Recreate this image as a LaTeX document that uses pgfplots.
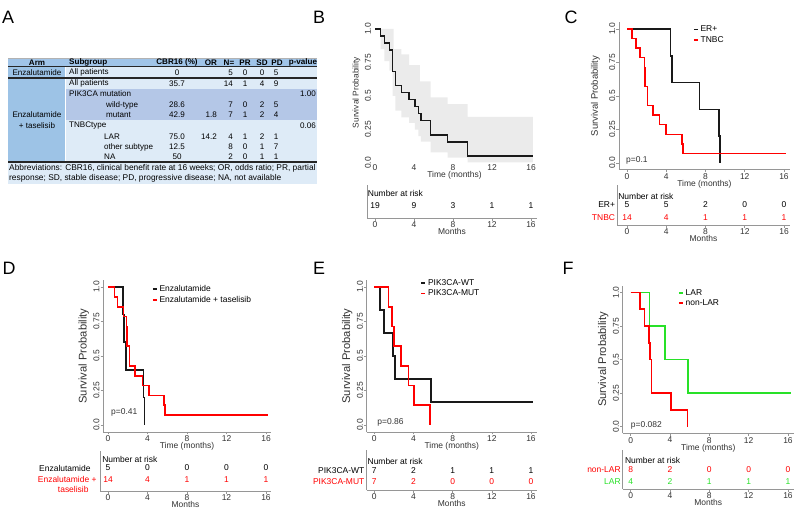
\documentclass[border=0pt]{standalone}
\usepackage{fontspec}
\setmainfont{Liberation Sans}
\usepackage{pgfplots}
\pgfplotsset{compat=1.18}

\definecolor{kmred}{RGB}{255,0,0}
\definecolor{kmgreen}{RGB}{40,225,40}
\definecolor{kmblack}{RGB}{25,25,25}
\definecolor{axgray}{RGB}{150,150,150}
\definecolor{txtgray}{RGB}{50,50,50}
\definecolor{hdrblue}{RGB}{160,196,232}
\definecolor{armblue}{RGB}{157,195,230}
\definecolor{lightblue}{RGB}{222,235,247}
\definecolor{midblue}{RGB}{180,199,231}
\definecolor{bandgray}{RGB}{235,235,235}

\newcommand{\tk}{\fontsize{8.5}{10}\selectfont}
\newcommand{\tb}{\fontsize{8.1}{9}\selectfont}

\pgfplotsset{
  km/.style={
    scale only axis, anchor=origin, clip=false,
    ymin=-0.05, ymax=1.05,
    axis lines*=left,
    axis line style={axgray, line width=0.6bp, -},
    xtick={0,4,8,12,16}, xticklabels={0,4,8,12,16},
    ytick={0,0.25,0.5,0.75,1}, yticklabels={0.0,0.25,0.5,0.75,1.0},
    tick style={axgray, line width=0.6bp},
    tick align=outside, major tick length=2.5bp,
    ticklabel style={font=\tk, text=txtgray, inner sep=1bp},
    yticklabel style={rotate=90, anchor=south},
    xlabel={Time (months)},
    xlabel style={font=\tk, text=txtgray, inner sep=0pt},
    ylabel={Survival Probability},
    ylabel style={font=\fontsize{11.2}{12}\selectfont, text=txtgray},
    legend cell align=left,
    legend image code/.code={\draw[#1, line width=1.6bp] (0bp,0bp) -- (4bp,0bp);},
    legend style={draw=none, fill=none, font=\tk, inner sep=0pt, row sep=-1bp, anchor=north west},
  },
  risk/.style={
    scale only axis, anchor=origin, clip=false, ymin=0,
    axis lines*=left, axis line style={axgray, line width=0.6bp, -},
    xtick={0,4,8,12,16}, xticklabels={0,4,8,12,16}, ytick=\empty,
    tick style={axgray, line width=0.6bp}, tick align=outside, major tick length=2.5bp,
    ticklabel style={font=\tk, text=txtgray, inner sep=1bp},
    xlabel={Months}, xlabel style={font=\tk, text=txtgray, inner sep=0pt, yshift=1bp},
  },
  curve/.style={const plot, mark=none, line width=1.6bp},
}

\begin{document}
\begin{tikzpicture}[x=1bp,y=-1bp]
\path[use as bounding box] (0,0) rectangle (800,508);

% panel letters
\foreach \l/\x/\y in {A/8/17,B/319/17,C/571/17,D/9/268,E/319/268,F/568/268}
  \node[font=\fontsize{18}{20}\selectfont] at (\x,\y) {\l};

% ---------------- Panel A: table ----------------
\fill[hdrblue] (8,58) rectangle (317,67);
\fill[armblue] (8,67) rectangle (65,162);
\fill[lightblue] (65,67) rectangle (317,89);
\fill[midblue] (65,89) rectangle (317,120);
\fill[lightblue] (65,120) rectangle (317,162);
\fill[lightblue] (8,162) rectangle (317,184);
\draw[white, line width=0.8bp] (65,67) -- (65,162);
\draw[gray!60, line width=0.5bp] (8,58) -- (317,58);
\draw[black!85, line width=1bp] (8,67) -- (317,67);
\draw[black!85, line width=1.3bp] (8,78) -- (317,78);
\draw[black!85, line width=1.3bp] (8,162) -- (317,162);

\tikzset{
  th/.style={font=\tb\bfseries, inner sep=0pt, anchor=center},
  tc/.style={font=\tb, inner sep=0pt, anchor=center},
  tl/.style={font=\tb, inner sep=0pt, anchor=west},
  tr/.style={font=\tb, inner sep=0pt, anchor=east},
}
\node[th] at (37,62.5) {Arm};
\node[th, anchor=west] at (69,62.5) {Subgroup};
\node[th] at (177,62.5) {CBR16 (\%)};
\node[th] at (211,62.5) {OR};
\node[th] at (229,62.5) {N=};
\node[th] at (245,62.5) {PR};
\node[th] at (262,62.5) {SD};
\node[th] at (277,62.5) {PD};
\node[th] at (303,62.5) {p-value};

\node[tc] at (37,72.5) {Enzalutamide};
\node[tc] at (37,115) {Enzalutamide};
\node[tc] at (37,126) {+ taselisib};

\node[tl] at (69,72.5) {All patients};
\node[tc] at (177,72.5) {0};
\node[tr] at (233,72.5) {5};
\node[tc] at (245,72.5) {0};
\node[tc] at (262,72.5) {0};
\node[tc] at (276,72.5) {5};

\node[tl] at (69,83.5) {All patients};
\node[tc] at (177,83.5) {35.7};
\node[tr] at (233,83.5) {14};
\node[tc] at (245,83.5) {1};
\node[tc] at (262,83.5) {4};
\node[tc] at (276,83.5) {9};

\node[tl] at (69,94) {PIK3CA mutation};
\node[tr] at (316,94) {1.00};

\node[tl] at (106,105) {wild-type};
\node[tc] at (177,105) {28.6};
\node[tr] at (233,105) {7};
\node[tc] at (245,105) {0};
\node[tc] at (262,105) {2};
\node[tc] at (276,105) {5};

\node[tl] at (106,115) {mutant};
\node[tc] at (177,115) {42.9};
\node[tr] at (217,115) {1.8};
\node[tr] at (233,115) {7};
\node[tc] at (245,115) {1};
\node[tc] at (262,115) {2};
\node[tc] at (276,115) {4};

\node[tl] at (69,126) {TNBCtype};
\node[tr] at (316,126) {0.06};

\node[tl] at (104,136.5) {LAR};
\node[tc] at (177,136.5) {75.0};
\node[tr] at (217,136.5) {14.2};
\node[tr] at (233,136.5) {4};
\node[tc] at (245,136.5) {1};
\node[tc] at (262,136.5) {2};
\node[tc] at (276,136.5) {1};

\node[tl] at (104,147) {other subtype};
\node[tc] at (177,147) {12.5};
\node[tr] at (233,147) {8};
\node[tc] at (245,147) {0};
\node[tc] at (262,147) {1};
\node[tc] at (276,147) {7};

\node[tl] at (104,157) {NA};
\node[tc] at (177,157) {50};
\node[tr] at (233,157) {2};
\node[tc] at (245,157) {0};
\node[tc] at (262,157) {1};
\node[tc] at (276,157) {1};

\node[tl, font=\fontsize{8.4}{9}\selectfont] at (9,168) {Abbreviations: CBR16, clinical benefit rate at 16 weeks; OR, odds ratio; PR, partial};
\node[tl, font=\fontsize{8.4}{9}\selectfont] at (9,178) {response; SD, stable disease; PD, progressive disease; NA, not available};

% ---------------- Panel B ----------------
\begin{axis}[km, at={(375bp,-163bp)}, xmin=-0.3, xmax=16.6, ymin=0,
  width=164.8bp, height=140.7bp,
  axis line style={draw=none}, tick style={draw=none}, major tick length=0pt,
  ylabel style={font=\fontsize{8.4}{9}\selectfont}]
\addplot[fill=bandgray, draw=none, forget plot] coordinates {
 (0,1)(1.9,1)(1.9,0.85)(2.7,0.85)(2.7,0.81)(3.5,0.81)(3.5,0.73)(4.6,0.73)(4.6,0.61)
 (5.7,0.61)(5.7,0.49)(7.45,0.49)(7.45,0.44)(9.5,0.44)(9.5,0.345)(16.2,0.345)
 (16.2,0.005)(9.5,0.005)(9.5,0.04)(7.45,0.04)(7.45,0.08)(5.7,0.08)(5.7,0.16)(4.7,0.16)
 (4.7,0.2)(4.45,0.2)(4.45,0.25)(4.1,0.25)(4.1,0.3)(3.5,0.3)(3.5,0.34)(2.7,0.34)(2.7,0.39)
 (2.09,0.39)(2.09,0.5)(1.81,0.5)(1.81,0.69)(1.47,0.69)(1.47,0.76)(0.96,0.76)(0.96,0.85)
 (0.58,0.85)(0.58,1)(0,1)};
\addplot[curve, kmblack] coordinates {
 (0,1)(0.58,0.947)(0.96,0.895)(1.47,0.842)(1.81,0.684)(2.09,0.579)(2.7,0.526)
 (3.5,0.474)(4.1,0.421)(4.45,0.368)(4.7,0.316)(5.7,0.211)(7.45,0.158)(9.5,0.053)(16.2,0.053)};
\end{axis}
\begin{axis}[risk, at={(375bp,-218bp)}, xmin=-0.82, xmax=16.6, ymax=33,
  width=169.8bp, height=33bp]
\node[anchor=west, font=\tk, inner sep=0pt] at (axis cs:-0.75,25) {Number at risk};
\node[font=\tk] at (axis cs:0,12) {19};
\node[font=\tk] at (axis cs:4,12) {9};
\node[font=\tk] at (axis cs:8,12) {3};
\node[font=\tk] at (axis cs:12,12) {1};
\node[font=\tk] at (axis cs:16,12) {1};
\end{axis}

% ---------------- Panel C ----------------
\begin{axis}[km, at={(627bp,-163bp)}, xmin=-0.82, xmax=16.6,
  width=170.9bp, height=147.4bp,
  ylabel style={font=\fontsize{9.5}{10}\selectfont}, ylabel shift=5bp,
  legend style={at={(0.432,0.99)}}]
\addplot[curve, kmblack] coordinates {
 (0,1)(4.45,0.8)(4.6,0.6)(7.4,0.4)(9.4,0.2)(9.5,0)};
\addlegendentry{ER+}
\addplot[curve, kmred] coordinates {
 (0,1)(0.48,0.929)(0.92,0.857)(1.33,0.786)(1.77,0.714)(1.84,0.571)(2.07,0.429)
 (2.62,0.357)(3.3,0.286)(3.98,0.214)(5.58,0.143)(5.68,0.071)(16.2,0.071)};
\addlegendentry{TNBC}
\node[anchor=west, font=\tk, text=txtgray, inner sep=0pt] at (axis cs:-0.1,0.02) {p=0.1};
\end{axis}
\begin{axis}[risk, at={(627bp,-225bp)}, xmin=-1.0, xmax=16.6, ymax=40,
  width=172.7bp, height=40bp]
\node[anchor=west, font=\tk, inner sep=0pt] at (axis cs:-0.9,29) {Number at risk};
\node[anchor=east, font=\tk, inner sep=0pt] at (axis cs:-1.2,20) {ER+};
\node[anchor=east, font=\tk, inner sep=0pt, text=kmred] at (axis cs:-1.2,7) {TNBC};
\node[font=\tk] at (axis cs:0,20) {5};
\node[font=\tk] at (axis cs:4,20) {5};
\node[font=\tk] at (axis cs:8,20) {2};
\node[font=\tk] at (axis cs:12,20) {0};
\node[font=\tk] at (axis cs:16,20) {0};
\node[font=\tk, text=kmred] at (axis cs:0,7) {14};
\node[font=\tk, text=kmred] at (axis cs:4,7) {4};
\node[font=\tk, text=kmred] at (axis cs:8,7) {1};
\node[font=\tk, text=kmred] at (axis cs:12,7) {1};
\node[font=\tk, text=kmred] at (axis cs:16,7) {1};
\end{axis}

% ---------------- Panel D ----------------
\begin{axis}[km, at={(108bp,-425bp)}, xmin=-0.5, xmax=16.5,
  width=167.9bp, height=151.8bp,
  legend style={at={(0.29,0.98)}}]
\addplot[curve, kmblack] coordinates {
 (0,1)(1.49,0.8)(1.62,0.6)(1.82,0.4)(3.58,0.2)(3.68,0)};
\addlegendentry{Enzalutamide}
\addplot[curve, kmred] coordinates {
 (0,1)(0.64,0.929)(0.98,0.857)(1.55,0.786)(1.89,0.714)(1.95,0.571)(2.16,0.429)
 (2.73,0.357)(3.5,0.286)(4.15,0.214)(5.7,0.143)(5.78,0.071)(16.2,0.071)};
\addlegendentry{Enzalutamide + taselisib}
\node[anchor=west, font=\tk, text=txtgray, inner sep=0pt] at (axis cs:0.3,0.09) {p=0.41};
\end{axis}
\begin{axis}[risk, at={(108bp,-491bp)}, xmin=-0.81, xmax=16.5, ymax=40,
  width=170.9bp, height=40bp]
\node[anchor=west, font=\tk, inner sep=0pt] at (axis cs:-0.6,32) {Number at risk};
\node[anchor=east, font=\tk, inner sep=0pt] at (axis cs:-1.75,23) {Enzalutamide};
\node[anchor=north east, font=\tk, inner sep=0pt, text=kmred, align=right]
  at (axis cs:-1.14,15) {Enzalutamide +\\taselisib\hspace*{8bp}};
\node[font=\tk] at (axis cs:0,23) {5};
\node[font=\tk] at (axis cs:4,23) {0};
\node[font=\tk] at (axis cs:8,23) {0};
\node[font=\tk] at (axis cs:12,23) {0};
\node[font=\tk] at (axis cs:16,23) {0};
\node[font=\tk, text=kmred] at (axis cs:0,11) {14};
\node[font=\tk, text=kmred] at (axis cs:4,11) {4};
\node[font=\tk, text=kmred] at (axis cs:8,11) {1};
\node[font=\tk, text=kmred] at (axis cs:12,11) {1};
\node[font=\tk, text=kmred] at (axis cs:16,11) {1};
\end{axis}

% ---------------- Panel E ----------------
\begin{axis}[km, at={(374.3bp,-425bp)}, xmin=-0.78, xmax=16.6,
  width=170.2bp, height=151.8bp,
  legend style={at={(0.315,1.02)}}]
\addplot[curve, kmblack] coordinates {
 (0,1)(0.58,0.833)(1.02,0.667)(1.88,0.5)(2.1,0.333)(5.76,0.167)(16.25,0.167)};
\addlegendentry{PIK3CA-WT}
\addplot[curve, kmred] coordinates {
 (0,1)(1.43,0.857)(1.78,0.714)(2.01,0.571)(2.73,0.429)(3.48,0.286)(4.05,0.143)(5.69,0)};
\addlegendentry{PIK3CA-MUT}
\node[anchor=west, font=\tk, text=txtgray, inner sep=0pt] at (axis cs:0.3,0.02) {p=0.86};
\end{axis}
\begin{axis}[risk, at={(374.3bp,-490bp)}, xmin=-0.78, xmax=16.6, ymax=40,
  width=170.2bp, height=40bp]
\node[anchor=west, font=\tk, inner sep=0pt] at (axis cs:-0.7,29) {Number at risk};
\node[anchor=east, font=\tk, inner sep=0pt] at (axis cs:-1.0,19) {PIK3CA-WT};
\node[anchor=east, font=\tk, inner sep=0pt, text=kmred] at (axis cs:-1.0,8) {PIK3CA-MUT};
\node[font=\tk] at (axis cs:0,19) {7};
\node[font=\tk] at (axis cs:4,19) {2};
\node[font=\tk] at (axis cs:8,19) {1};
\node[font=\tk] at (axis cs:12,19) {1};
\node[font=\tk] at (axis cs:16,19) {1};
\node[font=\tk, text=kmred] at (axis cs:0,8) {7};
\node[font=\tk, text=kmred] at (axis cs:4,8) {2};
\node[font=\tk, text=kmred] at (axis cs:8,8) {0};
\node[font=\tk, text=kmred] at (axis cs:12,8) {0};
\node[font=\tk, text=kmred] at (axis cs:16,8) {0};
\end{axis}

% ---------------- Panel F ----------------
\begin{axis}[km, at={(630.7bp,-426.7bp)}, xmin=-0.81, xmax=16.6,
  width=171.1bp, height=147.8bp,
  legend style={at={(0.322,0.99)}}]
\addplot[curve, kmgreen] coordinates {
 (0,1)(1.9,0.75)(3.49,0.5)(5.8,0.25)(16.3,0.25)};
\addlegendentry{LAR}
\addplot[curve, kmred] coordinates {
 (0,1)(0.95,0.875)(1.39,0.75)(1.86,0.625)(1.96,0.5)(2.13,0.25)(4.1,0.125)(5.76,0)};
\addlegendentry{non-LAR}
\node[anchor=west, font=\tk, text=txtgray, inner sep=0pt] at (axis cs:0,0.01) {p=0.082};
\end{axis}
\begin{axis}[risk, at={(630.7bp,-489bp)}, xmin=-0.81, xmax=16.6, ymax=39,
  width=171.1bp, height=39bp]
\node[anchor=west, font=\tk, inner sep=0pt] at (axis cs:-0.6,29) {Number at risk};
\node[anchor=east, font=\tk, inner sep=0pt, text=kmred] at (axis cs:-1.0,19) {non-LAR};
\node[anchor=east, font=\tk, inner sep=0pt, text=kmgreen] at (axis cs:-1.0,7) {LAR};
\node[font=\tk, text=kmred] at (axis cs:0,19) {8};
\node[font=\tk, text=kmred] at (axis cs:4,19) {2};
\node[font=\tk, text=kmred] at (axis cs:8,19) {0};
\node[font=\tk, text=kmred] at (axis cs:12,19) {0};
\node[font=\tk, text=kmred] at (axis cs:16,19) {0};
\node[font=\tk, text=kmgreen] at (axis cs:0,7) {4};
\node[font=\tk, text=kmgreen] at (axis cs:4,7) {2};
\node[font=\tk, text=kmgreen] at (axis cs:8,7) {1};
\node[font=\tk, text=kmgreen] at (axis cs:12,7) {1};
\node[font=\tk, text=kmgreen] at (axis cs:16,7) {1};
\end{axis}

\end{tikzpicture}
\end{document}
